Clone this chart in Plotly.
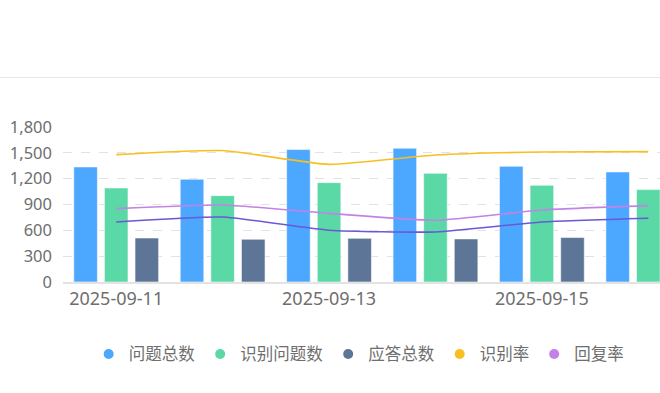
import plotly.graph_objects as go

dates = ["2025-09-11", "2025-09-12", "2025-09-13", "2025-09-14", "2025-09-15", "2025-09-16"]
tick_dates = ["2025-09-11", "2025-09-13", "2025-09-15"]
total_questions = [1336, 1193, 1538, 1553, 1344, 1278]      # 问题总数
recognized = [1092, 1003, 1154, 1262, 1123, 1073]           # 识别问题数
answered = [511, 496, 507, 500, 516, 525]                   # 应答总数
recognition_rate = [0.822, 0.848, 0.759, 0.819, 0.839, 0.841]  # 识别率
reply_rate = [0.4735, 0.497, 0.443, 0.398, 0.465, 0.493]       # 回复率
answer_rate = [0.387, 0.419, 0.334, 0.323, 0.387, 0.411]       # unlabeled line

C_BLUE = "#4ca7ff"
C_GREEN = "#5ad8a6"
C_DARK = "#5d7596"
C_YELLOW = "#f8bf22"
C_PURPLE = "#c382e6"
C_INDIGO = "#6a58d6"

FONT = "Noto Sans CJK SC, Noto Sans, sans-serif"
NUMFONT = "Noto Sans, sans-serif"
GREY = "#6e6e6e"

fig = go.Figure()
bar_line = dict(color="rgba(255,255,255,0.55)", width=1)
fig.add_bar(x=dates, y=total_questions, name="问题总数", marker=dict(color=C_BLUE, line=bar_line), showlegend=False)
fig.add_bar(x=dates, y=recognized, name="识别问题数", marker=dict(color=C_GREEN, line=bar_line), showlegend=False)
fig.add_bar(x=dates, y=answered, name="应答总数", marker=dict(color=C_DARK, line=bar_line), showlegend=False)

fig.add_scatter(x=dates, y=recognition_rate, name="识别率", mode="lines", yaxis="y2",
                line=dict(color=C_YELLOW, width=1.6, shape="spline", smoothing=0.5), showlegend=False)
fig.add_scatter(x=dates, y=reply_rate, name="回复率", mode="lines", yaxis="y2",
                line=dict(color=C_PURPLE, width=1.6, shape="spline", smoothing=0.5), showlegend=False)
fig.add_scatter(x=dates, y=answer_rate, name="应答率", mode="lines", yaxis="y2",
                line=dict(color=C_INDIGO, width=1.6, shape="spline", smoothing=0.5), showlegend=False)

# legend entries with round markers
for nm, col in [("问题总数", C_BLUE), ("识别问题数", C_GREEN), ("应答总数", C_DARK),
                ("识别率", C_YELLOW), ("回复率", C_PURPLE)]:
    fig.add_scatter(x=[None], y=[None], mode="markers", name=nm,
                    marker=dict(color=col, size=10, symbol="circle"), showlegend=True)

fig.update_layout(
    width=660, height=393,
    margin=dict(l=63, r=0, t=127, b=111),
    paper_bgcolor="white", plot_bgcolor="white",
    font=dict(family=FONT, color=GREY, size=16),
    barmode="group", bargap=0.137, bargroupgap=0.23,
    showlegend=True,
    legend=dict(orientation="h", x=0.043, xanchor="left", y=-0.466, yanchor="middle",
                font=dict(size=16.5, color=GREY, family=FONT), itemwidth=30,
                tracegroupgap=0),
    xaxis=dict(type="category", categoryorder="array", categoryarray=dates,
               range=[-0.5, 5.11], tickmode="array", tickvals=tick_dates, ticktext=tick_dates,
               showline=True, linecolor="#e3e3e3", linewidth=1.5, showgrid=False,
               ticks="", tickfont=dict(size=18, color=GREY, family=NUMFONT),
               fixedrange=True, automargin=False),
    yaxis=dict(range=[0, 1800], tickvals=[0, 300, 600, 900, 1200, 1500, 1800],
               tickformat=",d", showgrid=True, gridcolor="#e2e2e2", griddash="dash",
               gridwidth=1.2, zeroline=False, showline=False, ticks="",
               ticklabelstandoff=10, automargin=False,
               tickfont=dict(size=16.5, color=GREY, family=NUMFONT)),
    yaxis2=dict(range=[0, 1], overlaying="y", side="right", visible=False, showgrid=False),
    shapes=[dict(type="line", xref="paper", yref="paper", x0=-0.2, x1=1.02,
                 y0=(281.7 - 77.2) / 155.0, y1=(281.7 - 77.2) / 155.0,
                 line=dict(color="#e6e6e6", width=1.2))],
)

fig.write_html("out.html", config={"displayModeBar": False},
               post_script="document.body.style.margin='0';")
